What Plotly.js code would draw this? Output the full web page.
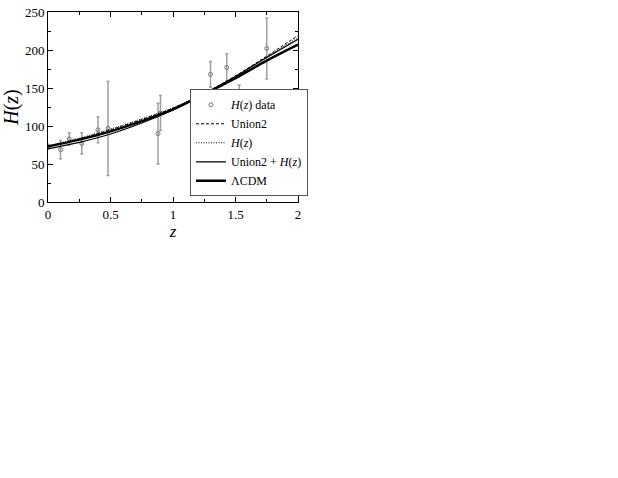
<!DOCTYPE html>
<html>
<head>
<meta charset="utf-8">
<script src="https://cdn.plot.ly/plotly-3.0.1.min.js"></script>
<style>html,body{margin:0;padding:0;background:#fff;}#chart{width:618px;height:478px;}</style>
</head>
<body>
<div id="chart"></div>
<script>
// Observational H(z) data
const dataZ   = [0, 0.1, 0.17, 0.27, 0.4, 0.48, 0.88, 0.9, 1.3, 1.43, 1.53, 1.75];
const dataH   = [73, 69, 83, 77, 95, 97, 90, 117, 168, 177, 140, 202];
const dataErr = [3, 12, 8, 14, 17, 62, 40, 23, 17, 18, 14, 40];

// Reconstructed curves
const curveZ      = [0, 0.25, 0.5, 0.75, 1, 1.25, 1.5, 1.75, 2];
const union2H     = [73, 83, 95, 108.5, 123.5, 143, 166, 192, 219];
const hzOnlyH     = [74, 84, 96, 109.5, 124, 143, 165.5, 191, 216.5];
const combinedH   = [70, 78.5, 89.5, 104, 121, 142, 165, 190, 214];
const lcdmH       = [73, 82, 93, 106.5, 122, 142, 163, 186, 207];

const serif = "Liberation Serif, Times New Roman, serif";

const traces = [
  {
    x: dataZ, y: dataH, type: 'scatter', mode: 'markers',
    name: '<i>H</i>(<i>z</i>) data',
    marker: {symbol: 'circle-open', size: 4, color: '#777', line: {width: 1, color: '#777'}},
    error_y: {type: 'data', array: dataErr, visible: true, color: '#a0a0a0', thickness: 1.5, width: 1.5}
  },
  {
    x: curveZ, y: union2H, type: 'scatter', mode: 'lines', name: 'Union2',
    line: {color: '#000', width: 1, dash: '3px,2px', shape: 'spline'}
  },
  {
    x: curveZ, y: hzOnlyH, type: 'scatter', mode: 'lines', name: '<i>H</i>(<i>z</i>)',
    line: {color: '#000', width: 1, dash: '1px,1.5px', shape: 'spline'}
  },
  {
    x: curveZ, y: combinedH, type: 'scatter', mode: 'lines', name: 'Union2 + <i>H</i>(<i>z</i>)',
    line: {color: '#000', width: 1.2, shape: 'spline'}
  },
  {
    x: curveZ, y: lcdmH, type: 'scatter', mode: 'lines', name: 'ΛCDM',
    line: {color: '#000', width: 2.4, shape: 'spline'}
  }
];

const axisCommon = {
  showline: true, linecolor: '#000', linewidth: 1, mirror: 'ticks',
  ticks: 'inside', ticklen: 5, tickwidth: 1, tickcolor: '#000',
  showgrid: false, zeroline: false,
  tickfont: {family: serif, size: 13, color: '#000'},
  minor: {ticks: 'inside', ticklen: 3, tickwidth: 1, tickcolor: '#000', showgrid: false}
};

const layout = {
  width: 618, height: 478,
  margin: {l: 48, r: 320, t: 12, b: 276},
  paper_bgcolor: '#fff', plot_bgcolor: '#fff',
  font: {family: serif, color: '#000'},
  showlegend: true,
  xaxis: Object.assign({}, axisCommon, {
    range: [0, 2], tickvals: [0, 0.5, 1, 1.5, 2], ticktext: ['0', '0.5', '1', '1.5', '2'],
    minor: Object.assign({}, axisCommon.minor, {dtick: 0.25}),
    title: {text: '<i>z</i>', font: {family: serif, size: 17, color: '#000'}, standoff: 2}
  }),
  yaxis: Object.assign({}, axisCommon, {
    range: [0, 250], dtick: 50,
    minor: Object.assign({}, axisCommon.minor, {dtick: 25}),
    title: {text: '<i>H</i>(<i>z</i>)', font: {family: serif, size: 20, color: '#000'}, standoff: 6}
  }),
  legend: {
    x: 0.568, y: 0.03, xanchor: 'left', yanchor: 'bottom',
    bgcolor: '#fff', bordercolor: '#555', borderwidth: 1,
    font: {family: serif, size: 12, color: '#000'},
    itemwidth: 30, tracegroupgap: 0
  }
};

Plotly.newPlot('chart', traces, layout, {displayModeBar: false, staticPlot: true});
</script>
</body>
</html>
